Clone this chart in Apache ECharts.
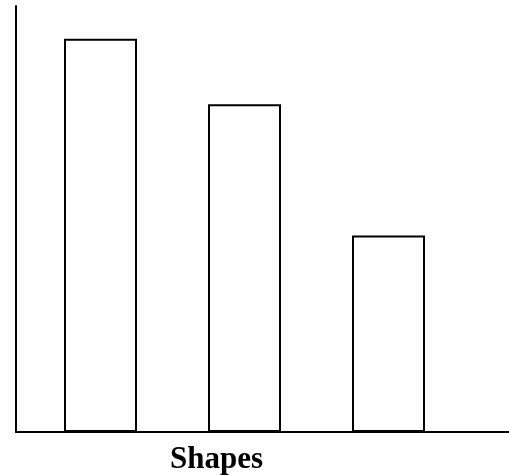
<!DOCTYPE html>
<html>
<head>
<meta charset="utf-8">
<script src="https://cdn.jsdelivr.net/npm/echarts@6/dist/echarts.min.js"></script>
<style>
html,body{margin:0;padding:0;background:#fff;}
#chart{width:509px;height:475px;}
</style>
</head>
<body>
<div id="chart"></div>
<script>
var categories = ['Shape 1', 'Shape 2', 'Shape 3'];
var values = [6, 5, 3];
var yMax = 6.5;
var axisTitle = 'Shapes';

var chart = echarts.init(document.getElementById('chart'), null, {renderer: 'canvas'});
chart.setOption({
  animation: false,
  backgroundColor: '#ffffff',
  title: {
    text: axisTitle,
    left: 170,
    top: 444,
    padding: 0,
    textStyle: {fontFamily: 'Liberation Serif', fontWeight: 'bold', fontSize: 31, color: '#000'}
  },
  grid: [
    {left: 16, right: 0, top: 6, bottom: 43},
    {left: 28.5, width: 432, top: 6, bottom: 43}
  ],
  xAxis: [
    {gridIndex: 0, type: 'value', min: 0, max: 1,
     axisLine: {show: true, lineStyle: {color: '#000', width: 2}},
     axisTick: {show: false}, axisLabel: {show: false}, splitLine: {show: false}},
    {gridIndex: 1, type: 'category', data: categories, show: false}
  ],
  yAxis: [
    {gridIndex: 0, type: 'value', min: 0, max: 1,
     axisLine: {show: true, lineStyle: {color: '#000', width: 2}},
     axisTick: {show: false}, axisLabel: {show: false}, splitLine: {show: false}},
    {gridIndex: 1, type: 'value', min: 0, max: yMax, show: false, splitLine: {show: false}}
  ],
  series: [{
    type: 'bar',
    xAxisIndex: 1,
    yAxisIndex: 1,
    data: values,
    barWidth: 73,
    itemStyle: {color: '#ffffff', borderColor: '#000', borderWidth: 2}
  }]
});
</script>
</body>
</html>
